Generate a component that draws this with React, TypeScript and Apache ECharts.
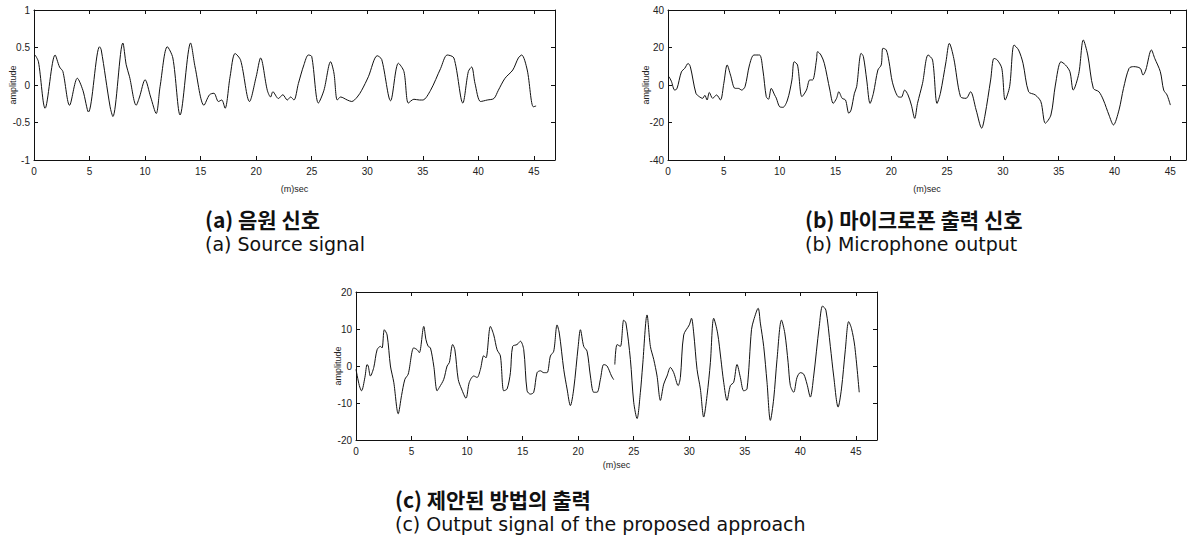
import React, { useEffect, useRef } from "react";
import * as echarts from "echarts";

// (a) Source signal
const A_T = [0.1, 0.4, 1.0, 1.9, 2.3, 2.6, 3.2, 3.9, 4.4, 4.9, 5.9, 6.05, 6.85, 7.1, 8.0, 8.3, 8.6, 9.2, 9.5, 10.0, 10.5, 11.0, 11.35, 12.0, 12.5, 13.15, 14.1, 14.5, 15.3, 15.8, 16.2, 16.6, 16.9, 17.2, 17.65, 18.1, 18.6, 19.4, 20.0, 20.4, 21.0, 21.3, 21.5, 22.0, 22.4, 22.8, 23.1, 23.4, 23.8, 24.3, 24.7, 25.0, 25.6, 26.1, 26.7, 27.0, 27.3, 27.6, 28.2, 28.6, 29.1, 29.5, 30.1, 30.9, 31.3, 32.1, 32.8, 33.3, 33.7, 34.2, 34.7, 35.0, 35.7, 36.6, 37.2, 37.8, 38.6, 39.1, 39.4, 39.7, 40.2, 40.8, 41.4, 41.8, 42.4, 43.1, 43.6, 43.9, 44.4, 44.95, 45.2];
const A_V = [0.4, 0.31, -0.31, 0.4, 0.24, 0.18, -0.27, 0.09, -0.07, -0.36, 0.51, 0.47, -0.29, -0.42, 0.56, 0.27, 0.11, -0.27, -0.16, 0.07, -0.16, -0.38, -0.02, 0.51, 0.36, -0.4, 0.56, 0.24, -0.27, -0.13, -0.11, -0.22, -0.2, -0.31, 0.11, 0.42, 0.33, -0.22, 0.11, 0.36, -0.07, -0.16, -0.09, -0.18, -0.13, -0.2, -0.16, -0.2, 0.02, 0.27, 0.4, 0.38, -0.24, -0.07, 0.31, 0.16, -0.2, -0.16, -0.2, -0.22, -0.16, -0.07, 0.11, 0.39, 0.34, -0.21, 0.29, 0.18, -0.24, -0.19, -0.2, -0.2, -0.07, 0.22, 0.4, 0.36, -0.24, 0.18, 0.24, 0.02, -0.22, -0.2, -0.18, -0.07, 0.09, 0.2, 0.36, 0.4, 0.2, -0.29, -0.28];

// (b) Microphone output
const B_T = [0.1, 0.3, 0.6, 0.8, 1.2, 1.5, 1.8, 2.0, 2.5, 2.8, 3.1, 3.3, 3.5, 3.7, 4.0, 4.35, 4.7, 5.0, 5.3, 5.6, 6.0, 6.3, 6.6, 6.9, 7.3, 7.7, 8.2, 8.5, 8.8, 9.0, 9.25, 9.55, 9.7, 10.0, 10.3, 10.7, 11.1, 11.3, 11.6, 12.0, 12.4, 12.7, 12.95, 13.3, 13.4, 13.7, 14.0, 14.5, 14.8, 15.1, 15.3, 15.6, 15.9, 16.2, 16.4, 16.7, 16.9, 17.3, 17.5, 17.8, 18.1, 18.4, 18.8, 19.1, 19.25, 19.55, 19.8, 20.1, 20.6, 20.9, 21.2, 21.5, 21.8, 22.1, 22.35, 22.8, 23.3, 23.7, 24.1, 24.4, 24.9, 25.2, 25.6, 26.2, 26.7, 27.1, 27.6, 28.1, 28.4, 28.9, 29.2, 29.5, 29.9, 30.2, 30.6, 31.0, 31.4, 31.8, 32.3, 32.9, 33.4, 33.8, 34.3, 34.7, 35.2, 35.6, 36.0, 36.3, 36.8, 37.2, 37.6, 38.1, 38.6, 39.0, 39.5, 39.9, 40.4, 40.8, 41.3, 41.7, 42.3, 42.55, 42.8, 43.3, 43.6, 44.1, 44.4, 44.7, 45.0];
const B_V = [4.4, 2, -2.7, -2, 7, 8.9, 11.5, 9.8, -4.4, -6.2, -7.1, -5.5, -8, -4, -7.1, -5.3, -8, 0.9, 10.7, 5.3, -1.8, -1.8, -2.7, -0.9, 10.7, 16, 16, 8, -6.2, -7.6, -1.8, -5.3, -7, -11.6, -11.9, -8, 2.7, 12.4, 10.7, -6.2, -2.7, 2.7, 2.7, 13.3, 17.8, 16, 11.6, -2.7, -9.8, -7.1, -3.6, -7.1, -8, -15.1, -13.3, -4.4, -0.9, 16.9, 15.2, 2.7, -9.8, -4.4, 8, 10.7, 19.6, 18.7, 12.4, 1.5, -6.2, -6.5, -2.7, -5.3, -10.7, -17.8, -9.8, 0.9, 16, 13.3, -9.8, -4.4, 12.4, 22.2, 14.2, -6.2, -7.1, -3.6, -13.3, -23, -16, 2.7, 14.2, 13.3, 8.9, -8, -0.9, 21.3, 18.7, 11.6, -3.6, -5.3, -8.9, -20.4, -16, 0, 12.4, 10.7, 7.1, -2.7, 6.2, 24, 16, -1.8, -3.6, -8, -16, -21.3, -13.3, -1.8, 8.9, 9.8, 8.9, 5.3, 8, 18.7, 14.2, 7.1, -2.7, -5.3, -10.7];

// (c) Output signal of the proposed approach (null = gap in trace)
const C_T = [0.0, 0.3, 0.5, 0.8, 1.0, 1.1, 1.3, 1.6, 1.9, 2.2, 2.35, 2.55, 2.8, 3.1, 3.4, 3.8, 4.1, 4.4, 4.7, 5.2, 5.5, 5.7, 6.1, 6.3, 6.5, 6.7, 7.0, 7.3, 7.5, 7.9, 8.2, 8.4, 8.7, 8.9, 9.2, 9.5, 9.9, 10.2, 10.6, 10.9, 11.2, 11.5, 11.7, 12.1, 12.4, 12.7, 13.0, 13.3, 13.6, 13.9, 14.1, 14.5, 14.8, 15.1, 15.4, 15.7, 16.0, 16.3, 16.6, 16.9, 17.2, 17.5, 17.8, 18.1, 18.3, 18.7, 19.0, 19.3, 19.6, 20.0, 20.2, 20.5, 20.8, 21.1, 21.4, 21.7, 22.0, 22.3, 22.6, 23.0, 23.2, 23.25, 23.3, 23.5, 23.8, 24.1, 24.3, 24.7, 25.0, 25.3, 25.6, 25.8, 26.2, 26.5, 26.8, 27.1, 27.4, 27.7, 28.0, 28.3, 28.6, 29.0, 29.2, 29.5, 30.0, 30.2, 30.4, 30.7, 31.0, 31.3, 31.6, 31.9, 32.2, 32.55, 32.85, 33.1, 33.4, 33.7, 34.0, 34.3, 34.6, 34.9, 35.2, 35.6, 35.8, 36.2, 36.4, 36.7, 37.0, 37.3, 37.6, 37.9, 38.3, 38.6, 38.9, 39.1, 39.4, 39.7, 40.0, 40.3, 40.6, 40.9, 41.2, 41.7, 42.0, 42.3, 42.7, 43.0, 43.4, 43.7, 44.05, 44.35, 44.6, 44.9, 45.3];
const C_V = [-0.9, -5.3, -6.7, -3.1, 0.4, 0, -2.7, -0.4, 4.4, 5.3, 4.9, 9.8, 8.4, 0, -4.4, -12.9, -8, -3.6, -2.2, 4.9, 4.4, 3.6, 10.7, 7.1, 5.3, 4.9, 0, -6.7, -5.8, -3.6, 0, 0.9, 5.8, 4.4, -3.6, -6.2, -8.7, -4.4, -2.7, -3.1, -0.9, 2.8, 2.2, 10.7, 8.4, 4.4, 2.7, -6.7, -6.2, -1.8, 5.3, 5.8, 6.7, 4.4, -6.7, -7.6, -7.1, -1.8, -1.3, -1.8, -1.8, 2.7, 4, 11.1, 8.9, -0.9, -6.2, -10.7, -6.2, 5.3, 9.8, 5.3, 4, -2.7, -7.1, -7.1, -3.6, 0.4, 0, -2.7, -3.7, null, 0.4, 5.8, 5.3, 12.4, 11.6, 1.8, -9.8, -14.2, -7.1, 0, 13.8, 5.3, 1.8, -2.7, -9.3, -4.9, -2.7, -0.4, -1.8, -5.3, -3.1, 8.4, 11.1, 12.9, 8.9, -0.9, -6.2, -13.8, -8, 0.9, 12.9, 8.9, 1.8, -4.4, -9.3, -5.3, -4.4, 0.4, -3.1, -6.7, -6.2, 9.8, 12.4, 15.6, 11.6, 5.3, -4.4, -14.7, -8.9, 1.8, 12.4, 8.9, 0.9, -5.3, -7.1, -3.1, -1.8, -2.2, -4.9, -8.4, -2.7, 10.7, 16.2, 15.1, 5.3, -2.7, -11.1, -6.2, 4.4, 12, 10.2, 5.3, -7.1];

const CAPTIONS_KO = ["(a) 음원 신호", "(b) 마이크로폰 출력 신호", "(c) 제안된 방법의 출력"];
const CAPTIONS_EN = ["(a) Source signal", "(b) Microphone output", "(c) Output signal of the proposed approach"];
const X_NAME = "(m)sec";
const Y_NAME = "amplitude";

const PANELS = [
  { t: A_T, v: A_V, yMin: -1, yMax: 1, yInt: 0.5, xMax: 46.9, yGap: 17, xGap: 24, grid: { left: 34, top: 10, width: 521, height: 150 }, cap: { x: 205, y1: 221, y2: 246 } },
  { t: B_T, v: B_V, yMin: -40, yMax: 40, yInt: 20, xMax: 46.4, yGap: 18, xGap: 24, grid: { left: 668, top: 10, width: 518, height: 150 }, cap: { x: 805, y1: 221, y2: 246 } },
  { t: C_T, v: C_V, yMin: -20, yMax: 20, yInt: 10, xMax: 46.9, yGap: 14, xGap: 20, grid: { left: 356, top: 292, width: 521, height: 148 }, cap: { x: 395, y1: 501, y2: 526 } },
];

export default function App() {
  const ref = useRef<HTMLDivElement>(null);
  useEffect(() => {
    if (!ref.current) return;
    const chart = echarts.init(ref.current, null, { renderer: "svg" });
    const axisLine = { show: true, onZero: false, lineStyle: { color: "#111", width: 1 } };
    const tick = { show: true, inside: true, length: 4, lineStyle: { color: "#111" } };
    const labelFont = { fontFamily: "Liberation Sans", fontSize: 10, color: "#222" };
    const xAxis: any[] = [];
    const yAxis: any[] = [];
    const series: any[] = [];
    const graphic: any[] = [];
    PANELS.forEach((p, i) => {
      xAxis.push({
        type: "value", gridIndex: i, min: 0, max: p.xMax, interval: 5, position: "bottom",
        axisLine, axisTick: tick, splitLine: { show: false },
        axisLabel: { ...labelFont, margin: 6, formatter: (v: number) => (v % 5 === 0 ? String(v) : "") },
        name: X_NAME, nameLocation: "middle", nameGap: p.xGap, nameMoveOverlap: false,
        nameTextStyle: { fontFamily: "Liberation Sans", fontSize: 9, color: "#222" },
      });
      xAxis.push({
        type: "value", gridIndex: i, min: 0, max: p.xMax, interval: 5, position: "top",
        axisLine, axisTick: tick, splitLine: { show: false }, axisLabel: { show: false },
      });
      yAxis.push({
        type: "value", gridIndex: i, min: p.yMin, max: p.yMax, interval: p.yInt, position: "left",
        axisLine, axisTick: tick, splitLine: { show: false },
        axisLabel: { ...labelFont, margin: 4 },
        name: Y_NAME, nameLocation: "middle", nameGap: p.yGap, nameMoveOverlap: false,
        nameTextStyle: { fontFamily: "Liberation Sans", fontSize: 9, color: "#222" },
      });
      yAxis.push({
        type: "value", gridIndex: i, min: p.yMin, max: p.yMax, interval: p.yInt, position: "right",
        axisLine, axisTick: tick, splitLine: { show: false }, axisLabel: { show: false },
      });
      series.push({
        type: "line", xAxisIndex: 2 * i, yAxisIndex: 2 * i, symbol: "none", smooth: 0.3,
        connectNulls: false,
        lineStyle: { color: "#111", width: 1 },
        data: p.t.map((t, k) => [t, p.v[k] === null ? "-" : p.v[k]]),
      });
      graphic.push({
        type: "text", left: p.cap.x, top: p.cap.y1 - 13,
        style: { text: CAPTIONS_KO[i], fontFamily: "Noto Sans CJK KR", fontWeight: "bold", fontSize: 21, fill: "#111" },
      });
      graphic.push({
        type: "text", left: p.cap.x, top: p.cap.y2 - 12,
        style: { text: CAPTIONS_EN[i], fontFamily: "DejaVu Sans", fontSize: 19, fill: "#111" },
      });
    });
    chart.setOption({
      animation: false,
      backgroundColor: "#fff",
      grid: PANELS.map((p) => ({ ...p.grid, containLabel: false })),
      xAxis, yAxis, series, graphic,
    });
    return () => chart.dispose();
  }, []);
  return <div ref={ref} style={{ position: "fixed", left: 0, top: 0, width: 1191, height: 546 }} />;
}
